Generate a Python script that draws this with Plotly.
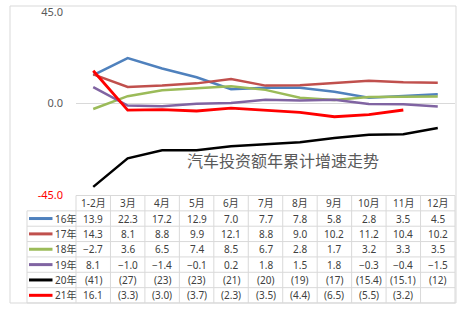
import plotly.graph_objects as go

months = ["1-2月", "3月", "4月", "5月", "6月", "7月", "8月", "9月", "10月", "11月", "12月"]
years = ["16年", "17年", "18年", "19年", "20年", "21年"]
v16 = [13.9, 22.3, 17.2, 12.9, 7.0, 7.7, 7.8, 5.8, 2.8, 3.5, 4.5]
v17 = [14.3, 8.1, 8.8, 9.9, 12.1, 8.8, 9.0, 10.2, 11.2, 10.4, 10.2]
v18 = [-2.7, 3.6, 6.5, 7.4, 8.5, 6.7, 2.8, 1.7, 3.2, 3.3, 3.5]
v19 = [8.1, -1.0, -1.4, -0.1, 0.2, 1.8, 1.5, 1.8, -0.3, -0.4, -1.5]
v20 = [-41, -27, -23, -23, -21, -20, -19, -17, -15.4, -15.1, -12]
v21 = [16.1, -3.3, -3.0, -3.7, -2.3, -3.5, -4.4, -6.5, -5.5, -3.2, None]
series = [v16, v17, v18, v19, v20, v21]
colors = ["#4F81BD", "#C0504D", "#9BBB59", "#8064A2", "#000000", "#FF0000"]
widths = [2.5, 2.5, 2.5, 2.5, 2.5, 2.8]
yticks = [-45, 0, 45]
yticktext = ["<span style='color:#FF0000'>-45.0</span>", "0.0", "45.0"]
title_text = "汽车投资额年累计增速走势"

W, H = 469, 314
L, R, T, B = 76, 455, 12, 195


def X(px):
    return (px - L) / (R - L)


def Y(py):
    return (B - py) / (B - T)


def fmt(row, v):
    if v is None:
        return ""
    if row == 4:
        return f"({abs(v):g})" if v < 0 else f"{v:g}"
    if row == 5:
        return f"({abs(v):.1f})" if v < 0 else f"{v:.1f}"
    return f"{v:.1f}".replace("-", "−")


fig = go.Figure()
for name, vals, c, w in zip(years, series, colors, widths):
    fig.add_trace(go.Scatter(x=list(range(len(months))), y=vals, mode="lines", name=name,
                             line=dict(color=c, width=w), connectgaps=False, showlegend=False,
                             cliponaxis=False))

shapes = []
annotations = []
grid = "#D9D9D9"
txt = "#404040"
font = "Noto Sans, Noto Sans CJK SC"

# outer frame
shapes.append(dict(type="rect", xref="paper", yref="paper", x0=X(10), x1=X(456), y0=Y(6), y1=Y(303),
                   line=dict(color=grid, width=1), layer="below"))

n = len(months)
colw = (R - L) / n
top = 195.5
rowh = (303 - top) / 7
# horizontal table lines
shapes.append(dict(type="line", xref="paper", yref="paper", x0=X(L), x1=X(R), y0=Y(top), y1=Y(top),
                   line=dict(color=grid, width=1)))
for k in range(1, 8):
    yy = top + rowh * k
    shapes.append(dict(type="line", xref="paper", yref="paper", x0=X(27), x1=X(R), y0=Y(yy), y1=Y(yy),
                       line=dict(color=grid, width=1)))
# vertical table lines
shapes.append(dict(type="line", xref="paper", yref="paper", x0=X(27), x1=X(27), y0=Y(top + rowh), y1=Y(303),
                   line=dict(color=grid, width=1)))
for j in range(n + 1):
    xx = L + colw * j
    shapes.append(dict(type="line", xref="paper", yref="paper", x0=X(xx), x1=X(xx), y0=Y(top), y1=Y(303),
                       line=dict(color=grid, width=1)))

cell_font = dict(family=font, size=10, color=txt)
# header
for j, m in enumerate(months):
    annotations.append(dict(x=j, xref="x", y=Y(top + rowh / 2), yref="paper", text=m, showarrow=False,
                            xanchor="center", yanchor="middle", font=cell_font))
# rows
for r, (name, vals, c) in enumerate(zip(years, series, colors)):
    yc = top + rowh * (r + 1.5)
    shapes.append(dict(type="line", xref="paper", yref="paper", x0=X(29), x1=X(52.5), y0=Y(yc), y1=Y(yc),
                       line=dict(color=c, width=3)))
    annotations.append(dict(x=X(52.5), xref="paper", y=Y(yc), yref="paper", text=name, showarrow=False,
                            xanchor="left", yanchor="middle", font=cell_font))
    for j, v in enumerate(vals):
        s = fmt(r, v)
        if s:
            annotations.append(dict(x=j, xref="x", y=Y(yc), yref="paper", text=s, showarrow=False,
                                    xanchor="center", yanchor="middle", font=cell_font))

annotations.append(dict(x=X(283), xref="paper", y=Y(161), yref="paper", text=title_text, showarrow=False,
                        xanchor="center", yanchor="middle",
                        font=dict(family=font, size=16, color="#595959")))

fig.update_layout(
    width=W, height=H,
    margin=dict(l=L, r=W - R, t=T, b=H - B, pad=0, autoexpand=False),
    paper_bgcolor="white", plot_bgcolor="white",
    xaxis=dict(range=[-0.5, n - 0.5], showticklabels=False, showgrid=False, zeroline=False,
               showline=False, ticks="", fixedrange=True, automargin=False),
    yaxis=dict(range=[-45, 45], tickvals=yticks, ticktext=yticktext, showgrid=True, gridcolor=grid,
               gridwidth=1, zeroline=False, showline=False, ticks="", ticklabelstandoff=12,
               tickfont=dict(family=font, size=11, color="#595959"), fixedrange=True, automargin=False),
    shapes=shapes, annotations=annotations, showlegend=False,
)
fig.write_html("out.html")
